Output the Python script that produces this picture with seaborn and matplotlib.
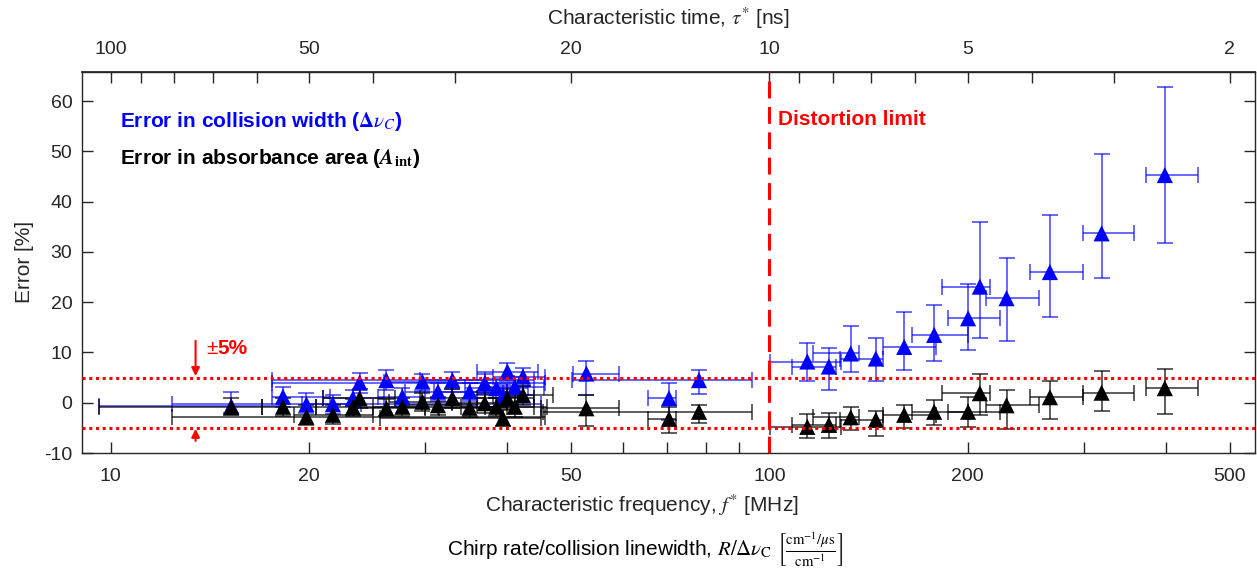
import numpy as np
import pandas as pd
import seaborn as sns
import matplotlib.pyplot as plt
from matplotlib.ticker import NullFormatter

# --- data ---------------------------------------------------------------------
# characteristic frequency f* [MHz]
freq = [15.25, 18.27, 19.83, 21.75, 23.33, 23.88, 26.22, 27.73, 29.74, 31.4,
        33.03, 35.08, 36.98, 38.51, 39.42, 40.03, 41.07, 42.27, 52.76, 70.41,
        78.2, 114.2, 123.1, 132.9, 145.1, 160.2, 177.9, 200.3, 208.7, 229.1,
        266.6, 319.4, 398.4]

# error in collision width (blue)
cw_err = [-0.7, 1.2, -0.3, -0.3, 0.9, 4.0, 4.5, 1.2, 4.2, 2.2,
          4.5, 2.2, 3.9, 2.9, 1.5, 6.2, 3.2, 5.2, 5.8, 0.9,
          4.5, 8.2, 7.2, 9.8, 8.8, 11.1, 13.5, 16.8, 23.1, 20.8,
          26.0, 33.7, 45.3]
cw_lo = [-2.0, -0.8, -2.0, -2.2, -0.6, 2.0, 2.6, -0.6, 2.4, 0.4,
         2.7, 0.4, 2.0, 1.0, -0.4, 4.3, 1.2, 3.3, 1.5, -3.4,
         1.7, 4.3, 2.5, 6.2, 4.3, 6.5, 8.3, 10.5, 12.9, 12.3,
         17.0, 24.9, 31.8]
cw_hi = [2.2, 3.2, 1.9, 1.5, 2.6, 6.0, 6.6, 3.0, 5.8, 4.0,
         6.2, 4.0, 5.7, 4.8, 3.5, 8.0, 5.2, 7.0, 8.3, 4.0,
         6.5, 11.8, 10.9, 15.2, 12.9, 18.1, 19.4, 23.7, 36.0, 28.7,
         37.3, 49.4, 62.8]
cw_flo = [9.6, 17.6, 12.4, 19.5, 21.0, 17.6, 17.6, 25.5, 26.0, 28.0,
          29.5, 31.0, 33.0, 34.5, 35.0, 36.0, 37.0, 38.0, 50.3, 65.4,
          50.1, 100.2, 108.1, 116.5, 127.9, 148.6, 164.8, 186.7, 183.0, 213.3,
          248.8, 298.8, 372.9]
cw_fhi = [18.0, 21.5, 45.0, 24.0, 26.0, 45.6, 44.0, 30.0, 33.0, 40.0,
          37.0, 40.0, 41.0, 43.0, 44.0, 44.5, 45.5, 45.6, 59.1, 72.2,
          94.0, 128.3, 126.4, 137.0, 149.0, 179.0, 200.0, 224.0, 216.4, 257.0,
          298.8, 358.0, 446.7]

# error in absorbance area (black)
ar_err = [-0.9, -0.8, -2.8, -2.4, -0.9, 0.9, -1.1, -0.8, 0.2, -0.5,
          0.9, -1.0, -0.1, -0.8, -3.1, 0.9, -0.8, 1.5, -1.1, -3.2,
          -1.8, -4.8, -4.4, -2.9, -3.4, -2.4, -1.8, -1.8, 1.9, -0.5,
          1.1, 2.0, 2.9]
ar_lo = [-2.5, -2.6, -4.4, -4.2, -2.6, -1.0, -2.6, -2.6, -1.6, -2.4,
         -1.0, -2.8, -2.0, -2.6, -4.6, -1.2, -2.8, -0.4, -4.6, -6.1,
         -4.0, -7.0, -7.0, -5.4, -6.6, -5.1, -4.4, -4.9, -2.4, -5.3,
         -3.2, -1.6, -2.3]
ar_hi = [1.0, 1.0, -0.5, -0.4, 0.8, 2.8, 0.8, 1.0, 2.0, 1.2,
         2.8, 1.0, 1.8, 1.0, -1.4, 2.8, 1.2, 3.3, 1.5, -0.8,
         -0.5, -2.3, -2.0, -0.8, -1.6, -0.5, 0.5, 1.2, 5.7, 2.5,
         4.4, 6.4, 6.8]
ar_flo = [9.6, 17.0, 12.4, 19.0, 20.5, 21.0, 23.0, 25.0, 26.5, 28.0,
          29.5, 31.5, 33.0, 34.0, 25.6, 36.0, 37.0, 38.0, 45.0, 65.4,
          45.3, 100.2, 108.1, 116.5, 127.9, 148.6, 164.8, 186.7, 183.0, 213.3,
          248.8, 298.8, 372.9]
ar_fhi = [17.0, 20.5, 45.6, 25.0, 30.0, 27.0, 30.0, 40.0, 33.0, 36.0,
          37.0, 39.0, 41.5, 44.0, 45.0, 44.0, 46.0, 47.0, 59.1, 72.2,
          94.0, 128.3, 126.4, 137.0, 149.0, 179.0, 200.0, 224.0, 216.4, 257.0,
          298.8, 358.0, 446.7]

distortion_limit = 100  # MHz
band = 5                # +/- 5 %

bottom_ticks = [10, 20, 50, 100, 200, 500]
bottom_minor = [30, 40, 60, 70, 80, 90, 300, 400]
top_ticks = [100, 50, 20, 10, 5, 2]
top_minor = [90, 80, 70, 60, 40, 30, 9, 8, 7, 6, 4, 3]

# --- style ---------------------------------------------------------------------
sns.set_theme(style="ticks")
plt.rcParams['font.family'] = ['Liberation Sans', 'DejaVu Sans']
plt.rcParams['mathtext.fontset'] = 'stix'
plt.rcParams['axes.unicode_minus'] = False
dark = '#262626'

fig = plt.figure(figsize=(12.57, 5.74), dpi=100)
W, H = 1257, 574
ax = fig.add_axes([82 / W, 1 - 453 / H, (1255 - 82) / W, (453 - 72) / H])
ax.set_xscale('log')

f = np.array(freq)


def draw_bars(val, lo, hi, flo, fhi, color, alpha, z):
    val = np.array(val)
    yerr = [val - np.array(lo), np.array(hi) - val]
    xerr = [f - np.array(flo), np.array(fhi) - f]
    ax.errorbar(f, val, xerr=xerr, yerr=yerr, fmt='none', ecolor=color,
                elinewidth=1.1, capsize=6, capthick=1.1, alpha=alpha, zorder=z)


draw_bars(cw_err, cw_lo, cw_hi, cw_flo, cw_fhi, 'blue', 0.75, 2)
draw_bars(ar_err, ar_lo, ar_hi, ar_flo, ar_fhi, 'black', 0.8, 2.1)

df = pd.concat([
    pd.DataFrame({'f': freq, 'err': cw_err, 'qty': 'cw'}),
    pd.DataFrame({'f': freq, 'err': ar_err, 'qty': 'area'}),
], ignore_index=True)
sns.scatterplot(data=df, x='f', y='err', hue='qty',
                palette={'cw': 'blue', 'area': 'black'}, marker='^', s=135,
                linewidth=0, legend=False, ax=ax, zorder=3)

# reference lines
ax.axvline(distortion_limit, color='red', lw=2.2, ls=(0, (5.5, 2.8)), zorder=4)
ax.axhline(band, color='red', lw=2.2, ls=(0, (1, 1.2)), zorder=4)
ax.axhline(-band, color='red', lw=2.2, ls=(0, (1, 1.2)), zorder=4)

ax.set_xlim(9.05, 546)
ax.set_ylim(-10, 65.8)
ax.set_xlabel('')
ax.set_ylabel('')

ax.set_xticks(bottom_ticks, labels=[str(t) for t in bottom_ticks])
ax.set_xticks(bottom_minor, minor=True)
ax.xaxis.set_minor_formatter(NullFormatter())
ax.set_yticks(range(-10, 61, 10))
ax.tick_params(axis='both', which='both', direction='in', length=8, width=1,
               colors=dark, labelsize=14, top=False, right=True)
ax.tick_params(axis='x', which='both', pad=11)
ax.tick_params(axis='y', pad=7)
for s in ax.spines.values():
    s.set_color(dark)
    s.set_linewidth(1)

# top axis: characteristic time tau* = 1/f*
sec = ax.secondary_xaxis('top', functions=(lambda x: 1000 / np.asarray(x),
                                           lambda x: 1000 / np.asarray(x)))
sec.set_xticks(top_ticks, labels=[str(t) for t in top_ticks])
sec.set_xticks(top_minor, minor=True)
sec.xaxis.set_minor_formatter(NullFormatter())
sec.tick_params(axis='x', which='both', direction='in', length=8, width=1,
                colors=dark, labelsize=14, pad=10)
sec.spines['top'].set_color(dark)

# annotations
ax.text(103.1, 56.4, 'Distortion limit', color='red', fontsize=15,
        fontweight='bold', va='center', ha='left')
ax.text(0.0324, 0.8696, r'Error in collision width ($\boldsymbol{\Delta\nu_C}$)',
        color='blue', fontsize=15, fontweight='bold', va='center',
        transform=ax.transAxes)
ax.text(0.0324, 0.7735, r'Error in absorbance area ($\boldsymbol{A}_{\mathbf{int}}$)',
        color='black', fontsize=15, fontweight='bold', va='center',
        transform=ax.transAxes)

x_arrow = 13.46
ax.annotate('', xy=(x_arrow, band + 0.3), xytext=(x_arrow, 12.3),
            arrowprops=dict(arrowstyle='-|>', color='red', lw=1.5, mutation_scale=12,
                            shrinkA=0, shrinkB=0), zorder=5)
ax.annotate('', xy=(x_arrow, -band - 0.2), xytext=(x_arrow, -7.6),
            arrowprops=dict(arrowstyle='-|>', color='red', lw=1.5, mutation_scale=12,
                            shrinkA=0, shrinkB=0), zorder=5)
fig.text(206 / W, 1 - 348 / H, '±', color='red', fontsize=15, va='center')
fig.text(217 / W, 1 - 348 / H, '5%', color='red', fontsize=15, fontweight='bold',
         va='center')

# axis titles
fig.text(668 / W, 1 - 18 / H, r'Characteristic time, $\tau^{*}$ [ns]', fontsize=15,
         ha='center', va='center', color=dark)
fig.text(642 / W, 1 - 505 / H, r'Characteristic frequency, $f^{*}$ [MHz]', fontsize=15,
         ha='center', va='center', color=dark)
fig.text(25 / W, 1 - 262 / H, 'Error [%]', fontsize=15, rotation=90,
         ha='center', va='center', color=dark)
fig.text(645 / W, 1 - 550 / H,
         r'Chirp rate/collision linewidth, $R/\Delta\nu_\mathrm{C}$ '
         r'$\left[\frac{\mathrm{cm}^{-1}/\mu\mathrm{s}}{\mathrm{cm}^{-1}}\right]$',
         fontsize=15, ha='center', va='center', color='black')

fig.savefig('out.png', dpi=100)
